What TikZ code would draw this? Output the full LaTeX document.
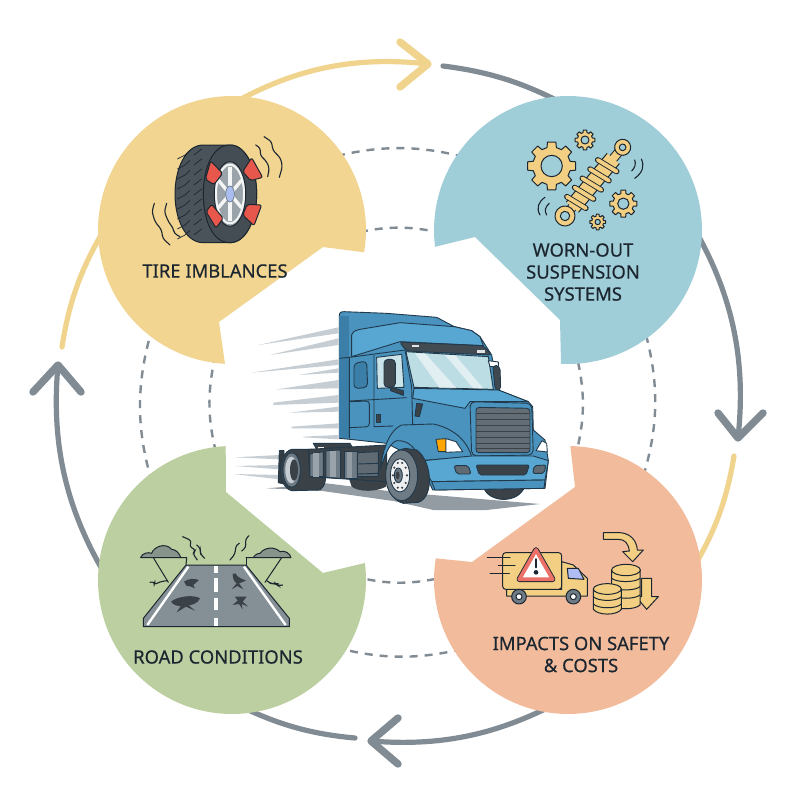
\documentclass[tikz,border=0pt]{standalone}
\usepackage{fontspec}
\setmainfont{Noto Sans}[FakeBold=0.45]
\definecolor{cyel}{HTML}{F1D591}
\definecolor{cblu}{HTML}{A0CED8}
\definecolor{cgrn}{HTML}{BBCFA0}
\definecolor{cora}{HTML}{F2BC9C}
\definecolor{ring}{HTML}{808B94}
\definecolor{ringy}{HTML}{F0D48E}
\definecolor{ink}{HTML}{1C2630}
\definecolor{tmain}{HTML}{4A93BF}
\definecolor{tlite}{HTML}{58A6D2}
\definecolor{tdark}{HTML}{3B7FA8}
\definecolor{tline}{HTML}{21394A}
\definecolor{rubber}{HTML}{3A4248}
\definecolor{steel}{HTML}{6F7B84}
\definecolor{gold}{HTML}{F2CF82}
\definecolor{speed}{HTML}{C6CED3}
\definecolor{wred}{HTML}{E8574C}
\tikzset{
  ringline/.style={line width=5.2pt,line cap=round,looseness=0.93},
  ringhead/.style={line width=7.4pt,line cap=round,line join=round},
  dashring/.style={draw=ring,line width=2.4pt,dash pattern=on 8pt off 7pt,looseness=0.93},
  lab/.style={font=\fontsize{18.4}{22}\selectfont,text=ink,align=center,inner sep=0pt},
  ol/.style={draw=tline,line width=0.9pt,line join=round},
  il/.style={draw=ink,line width=1pt,line join=round,line cap=round},
  wig/.style={draw=ink,line width=1.1pt,line cap=round,rounded corners=3pt},
  zoomed/.style={x=0.33333pt,y=-0.33333pt},
  redw/.style={il,fill=wred,rounded corners=2pt}
}
\newcommand{\cogwheel}[7]{%
  \begin{scope}[shift={(#1,#2)}]
  \draw[il,fill=gold] ({(1-0.22)*360/#6}:#3) \foreach \k in {1,...,#6}{
      -- ({(\k-0.22)*360/#6}:#3) -- ({(\k+0.22)*360/#6}:#3) -- ({(\k+0.32)*360/#6}:#4) -- ({(\k+0.68)*360/#6}:#4)
    } -- cycle;
  \draw[il,fill=#7] (0,0) circle[radius=#5];
  \end{scope}}
\begin{document}
\begin{tikzpicture}[x=1pt,y=-1pt]
\useasboundingbox (0,0) rectangle (800,800);
\fill[white] (0,0) rectangle (800,800);

% ring coordinates
\coordinate (ya1) at (232,104); \coordinate (yah) at (428,64);
\coordinate (yb1) at (400,42);  \coordinate (yb2) at (400,87);
\coordinate (ga1) at (443,66);  \coordinate (ga2) at (560,102);
\coordinate (gb1) at (694,228); \coordinate (gbh) at (738,438);
\coordinate (gc1) at (718,413); \coordinate (gc2) at (763,413);
\coordinate (yc1) at (734,456); \coordinate (yc2) at (692,570);
\coordinate (gd1) at (555,704); \coordinate (gdh) at (371,741);
\coordinate (ge1) at (398,718); \coordinate (ge2) at (398,764);
\coordinate (gf1) at (355,738); \coordinate (gf2) at (244,708);
\coordinate (gg1) at (106,576); \coordinate (ggh) at (58,365);
\coordinate (gh1) at (33,392);  \coordinate (gh2) at (81,392);
\coordinate (yd1) at (62,347);  \coordinate (yd2) at (104,230);

\draw[ringline,ringy] (ya1) to[bend left=18] (yah);
\draw[ringhead,ringy] (yb1) -- (yah) -- (yb2);
\draw[ringline,ring] (ga1) to[bend left=10] (ga2);
\draw[ringline,ring] (gb1) to[bend left=18] (gbh);
\draw[ringhead,ring] (gc1) -- (gbh) -- (gc2);
\draw[ringline,ringy] (yc1) to[bend left=11] (yc2);
\draw[ringline,ring] (gd1) to[bend left=16] (gdh);
\draw[ringhead,ring] (ge1) -- (gdh) -- (ge2);
\draw[ringline,ring] (gf1) to[bend left=10] (gf2);
\draw[ringline,ring] (gg1) to[bend left=18] (ggh);
\draw[ringhead,ring] (gh1) -- (ggh) -- (gh2);
\draw[ringline,ringy] (yd1) to[bend left=11] (yd2);

% dashed rings
\coordinate (oa1) at (337,156); \coordinate (oa2) at (464,157);
\coordinate (ob1) at (646,335); \coordinate (ob2) at (643,477);
\coordinate (oc1) at (462,649); \coordinate (oc2) at (338,648);
\coordinate (od1) at (152,482); \coordinate (od2) at (150,336);
\coordinate (ia1) at (360,232); \coordinate (ia2) at (437,232);
\coordinate (ib1) at (578,362); \coordinate (ib2) at (577,450);
\coordinate (ic1) at (435,579); \coordinate (ic2) at (361,578);
\coordinate (id1) at (216,452); \coordinate (id2) at (214,362);
\foreach \p/\q/\b in {oa1/oa2/14,ob1/ob2/16,oc1/oc2/14,od1/od2/16,ia1/ia2/12,ib1/ib2/13,ic1/ic2/12,id1/id2/13}
  \draw[dashring] (\p) to[bend left=\b] (\q);

% sector blobs
\fill[cyel] plot[domain=93:369.6,samples=90] ({232+134*cos(\x)},{230+134*sin(\x)}) -- (323,247) -- (219,322) -- cycle;
\fill[cblu] plot[domain=172.8:453,samples=90] ({568+134*cos(\x)},{230+134*sin(\x)}) -- (560,320) -- (475,237) -- cycle;
\fill[cgrn] plot[domain=-7.3:267.3,samples=90] ({232+134*cos(\x)},{580+134*sin(\x)}) -- (226,492) -- (323,573) -- cycle;
\fill[cora] plot[domain=-89:189.3,samples=90] ({568+134*cos(\x)},{580+134*sin(\x)}) -- (472,562) -- (575,487) -- cycle;

% labels
\node[lab] (ltire) at (215,271) {TIRE IMBLANCES};
\node[lab] (lsusp) at (583,272) {WORN-OUT\\SUSPENSION\\SYSTEMS};
\node[lab] (lroad) at (218,657) {ROAD CONDITIONS};
\node[lab] (limp)  at (581,654.5) {IMPACTS ON SAFETY\\\& COSTS};

%% ---------- tire icon
\begin{scope}[shift={(90,90)},zoomed]
  \draw[il,fill=rubber!70!steel] (340,165) .. controls (285,165) and (255,240) .. (255,312)
     .. controls (255,385) and (285,458) .. (340,458) -- (420,458)
     .. controls (470,458) and (500,385) .. (500,312)
     .. controls (500,240) and (470,165) .. (420,165) -- cycle;
  \draw[il,fill=rubber!80!steel] (420,165) .. controls (365,165) and (340,240) .. (340,312)
     .. controls (340,385) and (365,458) .. (420,458)
     .. controls (470,458) and (500,385) .. (500,312)
     .. controls (500,240) and (470,165) .. (420,165) -- cycle;
  \foreach \yy in {195,225,255,285,315,345,375,405,435}{
    \draw[ink,line width=.7pt] (262,{\yy+12}) -- (285,\yy) -- (300,{\yy-14});
    \draw[ink,line width=.7pt] (335,{\yy-18}) -- (312,\yy);
  }
  \draw[il,fill=steel!70!white] (420,312) ellipse[x radius=47,y radius=97];
  \foreach \a in {30,90,...,330}
    \draw[white!92!steel,line width=3.4pt] ({420+10*cos(\a)},{312+20*sin(\a)}) -- ({420+40*cos(\a)},{312+82*sin(\a)});
  \draw[white!92!steel,line width=2pt] (420,312) ellipse[x radius=42,y radius=88];
  \draw[steel,line width=.7pt,fill=cblu!70!blue!60!white] (420,312) ellipse[x radius=13,y radius=24];
  \draw[redw] (362,213) -- (398,250) -- (372,284) -- (346,268) -- cycle;
  \draw[redw] (485,203) -- (518,262) -- (482,272) -- (458,245) -- cycle;
  \draw[redw] (365,343) -- (400,385) -- (378,414) -- (348,365) -- cycle;
  \draw[redw] (472,343) -- (515,345) -- (492,407) -- (458,375) -- cycle;
  \draw[wig] (497,165) -- (512,175) -- (510,195) -- (530,215) -- (538,235) -- (533,260);
  \draw[wig] (522,140) -- (545,155) -- (548,180) -- (572,205) -- (577,230) -- (568,262);
  \draw[wig] (193,340) -- (186,365) -- (195,395) -- (215,420) -- (218,445) -- (240,465);
  \draw[wig] (230,340) -- (223,365) -- (235,395) -- (250,415) -- (252,430) -- (270,440);
\end{scope}

%% ---------- suspension icon
\begin{scope}[shift={(430,90)},zoomed]
  \cogwheel{365}{228}{73}{57}{32}{8}{cblu}
  \cogwheel{465}{150}{30}{23}{12}{8}{cblu}
  \cogwheel{580}{341}{41}{31}{17}{8}{cblu}
  \cogwheel{503}{396}{24}{18}{8}{8}{cblu}
  \begin{scope}[shift={(405,378)},rotate=50]
    \draw[ink,line width=9.5pt,line cap=round] (0,0) -- (269,0);
    \draw[gold,line width=7.5pt,line cap=round] (0,0) -- (269,0);
    \draw[il,fill=gold] (0,0) circle[radius=30];
    \draw[il,fill=cblu] (0,0) circle[radius=14];
    \draw[il,fill=gold] (269,0) circle[radius=24];
    \draw[il,fill=cblu] (269,0) circle[radius=10];
    \fill[gold] (35,-24) rectangle (225,24);
    \draw[il] (35,-24) -- (225,-24) (35,24) -- (225,24);
    \foreach \s in {48,84,...,216}{
      \draw[ink,line width=5.6pt,line cap=round] (\s,-33) -- ({\s+10},33);
      \draw[gold,line width=3.8pt,line cap=round] (\s,-33) -- ({\s+10},33);
    }
  \end{scope}
  \draw[wig] (605,243) .. controls (616,232) and (618,220) .. (614,210);
  \draw[wig] (614,265) .. controls (638,248) and (644,228) .. (634,207);
  \draw[wig] (330,375) .. controls (318,355) and (325,335) .. (345,322);
  \draw[wig] (350,375) .. controls (342,362) and (346,350) .. (358,340);
\end{scope}

%% ---------- road icon
\begin{scope}[shift={(90,450)},zoomed]
  \draw[il,fill=steel!85!white] (160,530) -- (160,505) -- (288,345) -- (468,345) -- (598,505) -- (598,530) -- cycle;
  \draw[white,line width=2.4pt] (172,525) -- (295,350);
  \draw[white,line width=2.4pt] (587,525) -- (462,350);
  \foreach \a/\b in {348/368,385/425,445/480,503/528}
    \draw[white,line width=3.4pt] (378,\a) -- (378,\b);
  \fill[rubber] (243,455) .. controls (260,440) and (310,432) .. (330,445) .. controls (325,460) and (300,468) .. (295,465) -- (315,482) -- (288,470) -- (260,487) -- (272,468) .. controls (260,468) and (250,465) .. (243,455) -- cycle;
  \fill[rubber] (282,395) .. controls (295,385) and (315,385) .. (327,390) -- (310,405) -- (315,415) -- (298,408) -- (290,408) -- cycle;
  \fill[rubber] (428,372) -- (436,370) .. controls (445,385) and (455,385) .. (468,392) -- (447,400) -- (460,418) -- (442,408) -- (425,418) -- (440,400) .. controls (432,395) and (428,385) .. (428,372) -- cycle;
  \fill[rubber] (435,440) -- (470,440) -- (458,455) -- (475,470) -- (455,462) -- (458,478) -- (447,462) -- (428,465) -- (443,452) -- cycle;
  \draw[il] (272,323) -- (290,323) -- (288,345);
  \draw[il] (190,323) -- (235,397);
  \draw[il] (468,323) -- (468,345);
  \draw[il] (575,323) -- (525,397);
  \draw[il,fill=steel!70!cgrn] (152,323) .. controls (155,310) and (175,305) .. (185,310)
     .. controls (190,292) and (225,275) .. (245,298) .. controls (258,298) and (270,312) .. (272,323) -- cycle;
  \draw[il,fill=steel!70!cgrn] (468,323) -- (603,323) .. controls (600,310) and (585,300) .. (570,305)
     .. controls (555,290) and (525,290) .. (510,310) .. controls (500,310) and (492,318) .. (490,323) -- cycle;
  \draw[wig] (278,260) -- (305,272) -- (298,290) -- (318,300) -- (308,310) -- (322,330);
  \draw[wig] (320,285) -- (332,295) -- (330,310) -- (344,325);
  \draw[wig] (420,330) -- (435,312) -- (438,285) -- (448,280);
  \draw[wig] (455,303) -- (468,292) -- (466,268) -- (477,257);
  \draw[wig] (180,397) -- (195,395) -- (192,405) -- (210,395) -- (232,392);
  \draw[wig] (530,392) -- (545,402) -- (558,400) -- (565,408) -- (578,405);
\end{scope}

%% ---------- impacts icon
\begin{scope}[shift={(430,450)},zoomed]
  \draw[il,fill=gold] (230,418) -- (230,438) -- (472,438) -- (472,385) -- (430,345) -- (395,335) -- (395,418) -- cycle;
  \draw[il,fill=gold,rounded corners=3pt] (218,308) rectangle (395,418);
  \draw[il,fill=cblu!60!blue!50!white] (412,355) -- (445,355) -- (462,388) -- (415,385) -- cycle;
  \foreach \xx in {267,430}{
    \draw[il,fill=steel] (\xx,440) circle[radius=22];
    \draw[il,fill=white] (\xx,440) circle[radius=9];
  }
  \draw[il] (172,323) -- (240,323) (205,346) -- (255,346) (180,370) -- (238,370);
  \draw[draw=ink,line width=5.6pt,line join=round] (318,300) -- (368,388) -- (268,388) -- cycle;
  \draw[draw=wred!85!white,fill=white,line width=3.8pt,line join=round] (318,300) -- (368,388) -- (268,388) -- cycle;
  \draw[ink,line width=2.4pt,line cap=round] (318,328) -- (318,352);
  \fill[ink] (318,367) circle[radius=7];
  \draw[il,fill=gold] (520,248) -- (570,248) .. controls (600,250) and (620,270) .. (622,300) -- (640,300) -- (608,335) -- (578,305) -- (598,303) .. controls (595,280) and (585,268) .. (565,268) -- (520,268) -- cycle;
  \draw[il,fill=gold] (635,385) -- (665,385) -- (665,440) -- (685,440) -- (650,478) -- (618,440) -- (635,440) -- cycle;
  \draw[il,fill=gold] (545,360) -- (545,465) .. controls (560,480) and (615,480) .. (630,465) -- (630,360) -- cycle;
  \draw[il,fill=gold] (588,360) ellipse[x radius=43,y radius=17];
  \foreach \yy in {385,410,435}
    \draw[il] (545,\yy) .. controls (560,{\yy+13}) and (615,{\yy+13}) .. (630,\yy);
  \draw[il,fill=gold] (490,417) -- (490,478) .. controls (505,497) and (560,497) .. (574,478) -- (574,417) -- cycle;
  \draw[il,fill=gold] (532,417) ellipse[x radius=42,y radius=16];
  \foreach \yy in {440,462}
    \draw[il] (490,\yy) .. controls (505,{\yy+15}) and (560,{\yy+15}) .. (574,\yy);
\end{scope}

%% ---------- central truck
\begin{scope}[shift={(220,300)},zoomed]
  \foreach \a/\b/\c/\d/\e in {115/135/82/100/135,150/165/115/135/165,95/218/178/195/218,235/225/205/218/225,170/268/240/265/268,160/308/285/308/315,208/338/320/335/338,215/380/370/385/385,250/410/405/418/412}
    \fill[speed] (\a,\b) -- (355,\c) -- (355,\d) -- (\a,\e) -- cycle;
  \fill[speed] (45,472) -- (178,465) -- (178,478) -- cycle;
  \fill[speed] (45,498) -- (178,495) -- (178,508) -- cycle;
  \fill[speed] (40,522) -- (178,525) -- (178,538) -- cycle;
  \fill[steel!75!white] (140,565) -- (320,550) -- (520,575) -- (960,612) -- (800,630) -- (640,630) -- (520,603) -- (300,572) -- cycle;
  \fill[rubber] (385,530) -- (395,560) .. controls (420,578) and (470,575) .. (498,560) -- (498,520) -- cycle;
  \draw[ol,fill=rubber] (790,560) .. controls (805,610) and (895,612) .. (914,560) -- cycle;
  \draw[ol,fill=rubber!90!black] (178,452) -- (175,548) -- (192,552) -- (192,452) -- cycle;
  \draw[ol,fill=rubber] (215,448) -- (275,448) .. controls (320,470) and (330,550) .. (300,570) -- (215,572) .. controls (170,560) and (170,460) .. (215,448) -- cycle;
  \draw[ol,fill=steel] (215,510) ellipse[x radius=26,y radius=52];
  \draw[draw=none,fill=speed] (214,510) ellipse[x radius=18,y radius=40];
  \draw[draw=none,fill=rubber] (222,510) ellipse[x radius=12,y radius=32];
  \draw[ol,fill=rubber] (280,430) -- (390,430) -- (400,448) -- (290,448) -- cycle;
  \fill[white!90!steel] (295,440) rectangle (312,446);
  \fill[white!90!steel] (375,440) rectangle (402,448);
  \draw[ol,fill=rubber] (265,448) -- (500,435) -- (500,545) -- (270,530) -- cycle;
  \draw[ol,fill=steel] (270,462) -- (310,455) -- (310,530) -- (270,530) -- cycle;
  \fill[white!30!steel] (280,458) rectangle (296,530);
  \draw[ol,fill=steel] (318,452) -- (362,450) -- (362,535) -- (318,532) -- cycle;
  \fill[white!30!steel] (330,452) rectangle (348,532);
  \draw[ol,fill=steel] (372,455) -- (412,455) -- (412,535) -- (372,535) -- cycle;
  \fill[white!25!steel] (380,456) rectangle (395,534);
  \draw[ol,fill=steel!70!rubber] (412,458) -- (475,455) -- (475,530) -- (412,530) -- cycle;
  \draw[ol] (412,492) -- (475,490) (412,522) -- (475,520);
  \draw[ol,fill=tmain] (358,415) -- (358,48) .. controls (358,38) and (362,35) .. (372,35) -- (500,40) -- (650,52) -- (703,80) -- (755,92) -- (780,110) -- (815,165) -- (835,270) -- (925,305) -- (938,320) -- (940,390) -- (975,420) -- (985,482) -- (975,565) -- (638,570) -- (600,482) -- (500,430) -- (390,418) -- cycle;
  \fill[tdark] (358,48) -- (388,48) -- (388,415) -- (358,415) -- cycle;
  \draw[ol] (358,175) -- (388,172);
  \draw[ol,fill=tlite] (395,170) -- (395,105) .. controls (400,92) and (410,90) .. (420,88) -- (540,68) -- (703,80) -- (755,92) -- (780,110) -- (790,137) -- (540,125) -- cycle;
  \draw[ol] (388,172) -- (555,150) (388,172) -- (388,415);
  \draw[ol,fill=rubber!85!steel,rounded corners=3pt] (538,126) -- (790,137) -- (815,165) -- (560,153) -- cycle;
  \fill[white!80!steel] (575,134) rectangle (598,142);
  \fill[white!80!steel] (772,150) rectangle (795,158);
  \begin{scope}
    \draw[ol,fill=cblu!70!white] (558,155) -- (805,170) -- (820,268) -- (582,262) -- cycle;
    \clip (558,155) -- (805,170) -- (820,268) -- (582,262) -- cycle;
    \fill[white,opacity=.55] (585,160) -- (615,160) -- (710,265) -- (660,265) -- cycle;
    \fill[white,opacity=.55] (675,165) -- (705,165) -- (790,265) -- (760,265) -- cycle;
  \end{scope}
  \draw[ol,fill=white] (805,182) -- (835,186) -- (835,200) -- (810,200) -- cycle;
  \draw[ol,fill=rubber!90!steel,rounded corners=4pt] (818,195) -- (840,198) -- (842,272) -- (826,272) -- cycle;
  \draw[ol,fill=cblu!55!white] (470,172) -- (545,163) -- (552,262) -- (472,265) -- cycle;
  \draw[ol,fill=rubber!90!steel,rounded corners=4pt] (492,178) rectangle (526,262);
  \draw[ol,fill=rubber] (512,262) -- (550,272) -- (550,286) -- (512,272) -- cycle;
  \draw[ol,fill=tdark,rounded corners=4pt] (402,190) -- (440,183) -- (443,262) -- (402,266) -- cycle;
  \draw[ol,rounded corners=3pt] (390,305) -- (448,303) -- (448,380) -- (390,383);
  \draw[ol] (462,165) -- (462,380) -- (520,378);
  \draw[ol] (390,303) -- (560,293);
  \draw[ol] (555,150) -- (575,262) -- (578,375);
  \draw[ol,fill=rubber] (470,343) rectangle (482,368);
  \draw[ol,fill=rubber] (590,310) -- (608,312) -- (598,350) -- (585,348) -- cycle;
  \draw[ol,fill=tlite] (582,265) -- (835,270) -- (925,305) -- (750,305) -- (735,325) -- (578,295) -- cycle;
  \draw[ol,fill=tmain] (480,510) .. controls (490,440) and (510,390) .. (545,375) -- (640,372) .. controls (700,385) and (740,420) .. (755,470) -- (600,482) .. controls (590,450) and (570,420) .. (530,422) .. controls (505,430) and (490,480) .. (480,510) -- cycle;
  \draw[ol,fill=tmain,rounded corners=5pt] (750,305) -- (935,310) -- (940,465) -- (755,468) -- cycle;
  \draw[ol,fill=steel!75!rubber,rounded corners=3pt] (768,322) -- (930,325) -- (930,458) -- (768,458) -- cycle;
  \foreach \yy in {340,358,376,394,412,430,446}
    \draw[rubber,line width=1pt] (768,\yy) -- (930,\yy);
  \draw[ol,fill=orange!70!yellow] (648,418) -- (678,416) -- (678,455) -- (655,455) -- cycle;
  \draw[ol,fill=white] (678,416) -- (708,425) -- (728,455) -- (678,457) -- cycle;
  \draw[ol,fill=white] (948,452) -- (966,422) -- (980,430) -- (982,456) -- cycle;
  \draw[ol,fill=tlite] (600,483) -- (755,468) -- (940,468) -- (985,482) -- (975,540) -- (635,545) -- cycle;
  \draw[ol,fill=tmain] (635,545) -- (975,540) -- (972,565) -- (645,570) -- cycle;
  \draw[ol,fill=steel!70!rubber,rounded corners=2pt] (702,497) -- (745,497) -- (753,522) -- (710,522) -- cycle;
  \draw[ol,fill=rubber,rounded corners=2pt] (768,495) -- (928,495) -- (918,525) -- (778,525) -- cycle;
  \draw[ol,fill=steel!70!rubber,rounded corners=2pt] (943,497) -- (978,495) -- (972,520) -- (938,520) -- cycle;
  \draw[ol,fill=rubber] (555,445) -- (590,450) .. controls (635,480) and (645,590) .. (595,607) -- (550,610) .. controls (480,590) and (480,460) .. (555,445) -- cycle;
  \draw[ol,fill=steel] (545,526) ellipse[x radius=48,y radius=76];
  \draw[ol,fill=white!88!steel] (540,526) ellipse[x radius=29,y radius=50];
  \foreach \a in {0,36,...,324}
    \fill[rubber] ({540+21*cos(\a)},{526+39*sin(\a)}) circle[radius=3.5];
  \draw[ol,fill=steel] (535,526) ellipse[x radius=12,y radius=22];
  \fill[rubber] (533,526) ellipse[x radius=6,y radius=12];
\end{scope}
\end{tikzpicture}
\end{document}
